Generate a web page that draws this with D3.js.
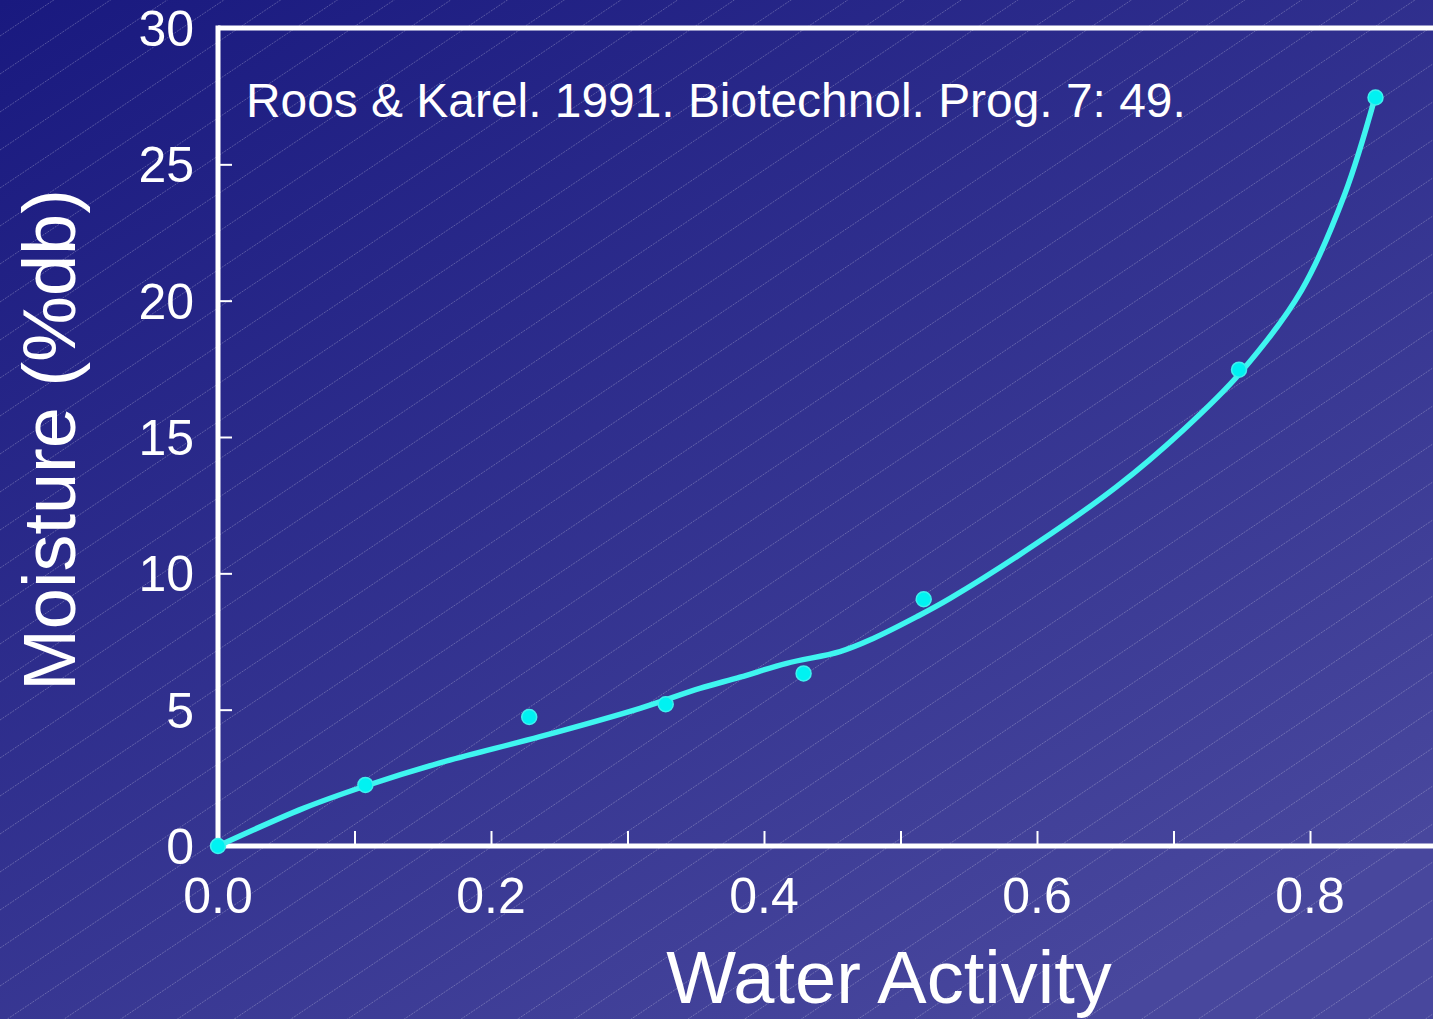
<!DOCTYPE html>
<html>
<head>
<meta charset="utf-8">
<script src="https://cdn.jsdelivr.net/npm/d3@7"></script>
<style>
html,body{margin:0;padding:0;overflow:hidden;background:#2a2a8a;}
svg{display:block;}
text{font-family:"Liberation Sans",Arial,sans-serif;fill:#fff;}
</style>
</head>
<body>
<svg id="chart" width="1433" height="1019"></svg>
<script>
// Measured data points (water activity, moisture %db)
const pointAw = [0, 0.108, 0.228, 0.328, 0.429, 0.517, 0.748, 0.848];
const pointMoisture = [0, 2.24, 4.73, 5.2, 6.33, 9.05, 17.47, 27.45];
// Fitted curve
const curveAw = [0, 0.0625, 0.108, 0.1626, 0.2359, 0.3092, 0.353, 0.3824, 0.4166, 0.4557, 0.48, 0.512, 0.5363, 0.5998, 0.6584, 0.7072, 0.7487, 0.7939, 0.8257, 0.8476];
const curveMoisture = [0, 1.38, 2.2, 3.05, 4.01, 5.05, 5.78, 6.19, 6.7, 7.13, 7.61, 8.41, 9.08, 11.1, 13.18, 15.26, 17.34, 20.39, 23.94, 27.45];
const xTicks = [0, 0.1, 0.2, 0.3, 0.4, 0.5, 0.6, 0.7, 0.8];
const xTickLabels = [0, 0.2, 0.4, 0.6, 0.8];
const yTicks = [0, 5, 10, 15, 20, 25, 30];
const titleText = "Roos & Karel. 1991. Biotechnol. Prog. 7: 49.";
const xLabel = "Water Activity";
const yLabel = "Moisture (%db)";

const W = 1433, H = 1019;
const svg = d3.select("#chart");
const defs = svg.append("defs");
const grad = defs.append("linearGradient").attr("id","bg")
  .attr("x1","0").attr("y1","0").attr("x2","0.75").attr("y2","1");
grad.append("stop").attr("offset","0").attr("stop-color","#19197f");
grad.append("stop").attr("offset","1").attr("stop-color","#48479d");
svg.append("rect").attr("width",W).attr("height",H).attr("fill","url(#bg)");

// faint diagonal hatching (background decoration)
const hatch = svg.append("g").attr("stroke","rgba(255,255,255,0.24)").attr("stroke-width",1)
  .attr("stroke-dasharray","2,1");
const slope = 0.67, spacing = 38;
for (let c = -40; c < H + slope*W + 40; c += spacing) {
  hatch.append("line").attr("x1",0).attr("y1",c).attr("x2",W).attr("y2",c - slope*W);
}

const x = d3.scaleLinear().domain([0, 0.9]).range([218, 1446.5]);
const y = d3.scaleLinear().domain([0, 30]).range([846, 28]);

// frame top line
svg.append("line").attr("x1",x(0)).attr("x2",W).attr("y1",y(30)).attr("y2",y(30))
  .attr("stroke","#fff").attr("stroke-width",5);

// x axis ticks (inward)
const xAxis = d3.axisBottom(x).tickValues(xTicks).tickSize(-15).tickSizeOuter(0)
  .tickFormat(() => "");
const gx = svg.append("g").attr("transform",`translate(0,${y(0)})`).call(xAxis);
gx.select(".domain").remove();
gx.selectAll(".tick line").attr("stroke","#fff").attr("stroke-width",2);
svg.append("line").attr("x1",x(0)-2.5).attr("x2",W).attr("y1",y(0)).attr("y2",y(0))
  .attr("stroke","#fff").attr("stroke-width",5);
svg.append("g").selectAll("text").data(xTickLabels).join("text")
  .attr("x", d => x(d)).attr("y", 913).attr("text-anchor","middle")
  .attr("font-size",50).text(d3.format(".1f"));

// y axis ticks (inward)
const yAxis = d3.axisLeft(y).tickValues(yTicks).tickSize(-14).tickSizeOuter(0)
  .tickFormat(() => "");
const gy = svg.append("g").attr("transform",`translate(${x(0)},0)`).call(yAxis);
gy.select(".domain").remove();
gy.selectAll(".tick line").attr("stroke","#fff").attr("stroke-width",2);
svg.append("line").attr("x1",x(0)).attr("x2",x(0)).attr("y1",y(30)-2.5).attr("y2",y(0)+2.5)
  .attr("stroke","#fff").attr("stroke-width",5);
svg.append("g").selectAll("text").data(yTicks).join("text")
  .attr("x", 194).attr("y", d => y(d)).attr("dy","0.36em").attr("text-anchor","end")
  .attr("font-size",50).text(d => d);

// curve
const curveData = curveAw.map((a,i) => [a, curveMoisture[i]]);
const line = d3.line().x(d => x(d[0])).y(d => y(d[1])).curve(d3.curveCatmullRom.alpha(0.5));
svg.append("path").datum(curveData).attr("d", line).attr("fill","none")
  .attr("stroke","#3ff5f0").attr("stroke-width",5.5).attr("stroke-linecap","round");

// points
svg.append("g").selectAll("circle").data(pointAw.map((a,i)=>[a, pointMoisture[i]])).join("circle")
  .attr("cx", d => x(d[0])).attr("cy", d => y(d[1])).attr("r",7.5)
  .attr("fill","#00f2f2").attr("stroke","#40f0ee").attr("stroke-width",1.5);

// title / labels
svg.append("text").attr("x",246).attr("y",117).attr("font-size",47.9).text(titleText);
svg.append("text").attr("x",889).attr("y",1003).attr("text-anchor","middle")
  .attr("font-size",74).text(xLabel);
svg.append("text").attr("transform","translate(75,440) rotate(-90)").attr("text-anchor","middle")
  .attr("font-size",74).text(yLabel);
</script>
</body>
</html>
